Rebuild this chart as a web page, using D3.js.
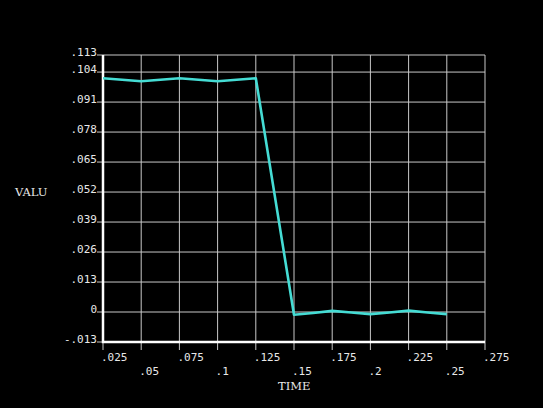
<!DOCTYPE html>
<html>
<head>
<meta charset="utf-8">
<script src="https://cdn.jsdelivr.net/npm/d3@7"></script>
<style>
  html, body { margin: 0; padding: 0; background: #000; }
  #pic { width: 543px; height: 408px; }
</style>
</head>
<body>
<div id="pic"></div>
<script>
// time values (s)
var times = [.025, .0375, .05, .0625, .075, .0875, .1, .1125, .125,
             .15, .1625, .175, .1875, .2, .2125, .225, .2375, .25];
var values = [.1013, .1007, .1000, .1007, .1013, .1007, .1000, .1007, .1013,
              -.0012, -.0004, .0005, -.0002, -.0009, -.0002, .0006, -.0002, -.0009];

var xTicks = [.025, .05, .075, .1, .125, .15, .175, .2, .225, .25, .275];
var xTickLabels = [".025", ".05", ".075", ".1", ".125", ".15", ".175", ".2", ".225", ".25", ".275"];
var yTicks = [-.013, 0, .013, .026, .039, .052, .065, .078, .091, .104, .1114];
var yTickLabels = ["-.013", "0", ".013", ".026", ".039", ".052", ".065", ".078", ".091", ".104", ".113"];

var margin = {top: 55, right: 58, bottom: 66, left: 103},
    width = 543 - margin.left - margin.right,
    height = 408 - margin.top - margin.bottom;

var svg = d3.select("#pic")
  .append("svg")
  .attr("width", 543)
  .attr("height", 408)
  .style("background", "#000")
  .append("g")
  .attr("transform", "translate(" + margin.left + "," + margin.top + ")");

var x = d3.scaleLinear().domain([.025, .275]).range([0, width]);
var y = d3.scaleLinear().domain([-.013, .1114]).range([height, 0]);

var grid = "#c8c8c8";
var txt = "#e8e8e8";
var mono = "'DejaVu Sans Mono', monospace";

// vertical grid lines, run past the bottom as tick marks
svg.append("g")
  .selectAll("line")
  .data(xTicks)
  .enter()
  .append("line")
    .attr("x1", function(d) { return x(d); })
    .attr("x2", function(d) { return x(d); })
    .attr("y1", 0)
    .attr("y2", height + 8)
    .attr("stroke", grid)
    .attr("stroke-width", 1);

// horizontal grid lines, run a little left of the axis
svg.append("g")
  .selectAll("line")
  .data(yTicks)
  .enter()
  .append("line")
    .attr("x1", -6)
    .attr("x2", width)
    .attr("y1", function(d) { return y(d); })
    .attr("y2", function(d) { return y(d); })
    .attr("stroke", grid)
    .attr("stroke-width", 1);

// left and bottom axis lines
svg.append("path")
  .attr("d", "M" + x(.025) + "," + y(.1114) + "V" + y(-.013) + "H" + x(.275))
  .attr("fill", "none")
  .attr("stroke", "#fff")
  .attr("stroke-width", 2.5);

// x tick labels, two staggered rows
svg.append("g")
  .selectAll("text")
  .data(xTicks)
  .enter()
  .append("text")
    .attr("x", function(d) { return x(d) - 2; })
    .attr("y", function(d, i) { return height + (i % 2 === 0 ? 19 : 33); })
    .attr("fill", txt)
    .attr("font-family", mono)
    .attr("font-size", "11px")
    .text(function(d, i) { return xTickLabels[i]; });

// y tick labels
svg.append("g")
  .selectAll("text")
  .data(yTicks)
  .enter()
  .append("text")
    .attr("x", -6)
    .attr("y", function(d) { return y(d) + 1; })
    .attr("text-anchor", "end")
    .attr("fill", txt)
    .attr("font-family", mono)
    .attr("font-size", "11px")
    .text(function(d, i) { return yTickLabels[i]; });

// the curve
var lineData = times.map(function(t, i) { return {t: t, v: values[i]}; });
svg.append("path")
  .datum(lineData)
  .attr("fill", "none")
  .attr("stroke", "#45dcd4")
  .attr("stroke-width", 2.6)
  .attr("stroke-linejoin", "round")
  .attr("d", d3.line()
    .x(function(d) { return x(d.t); })
    .y(function(d) { return y(d.v); })
  );

// axis titles
svg.append("text")
  .attr("x", x(.15) - 16)
  .attr("y", height + 48)
  .attr("fill", txt)
  .attr("font-family", "'DejaVu Serif', serif")
  .attr("font-size", "11.5px")
  .text("TIME");

svg.append("text")
  .attr("x", -88)
  .attr("y", y(.052) + 4)
  .attr("fill", txt)
  .attr("font-family", "'DejaVu Serif', serif")
  .attr("font-size", "11.5px")
  .text("VALU");
</script>
</body>
</html>
